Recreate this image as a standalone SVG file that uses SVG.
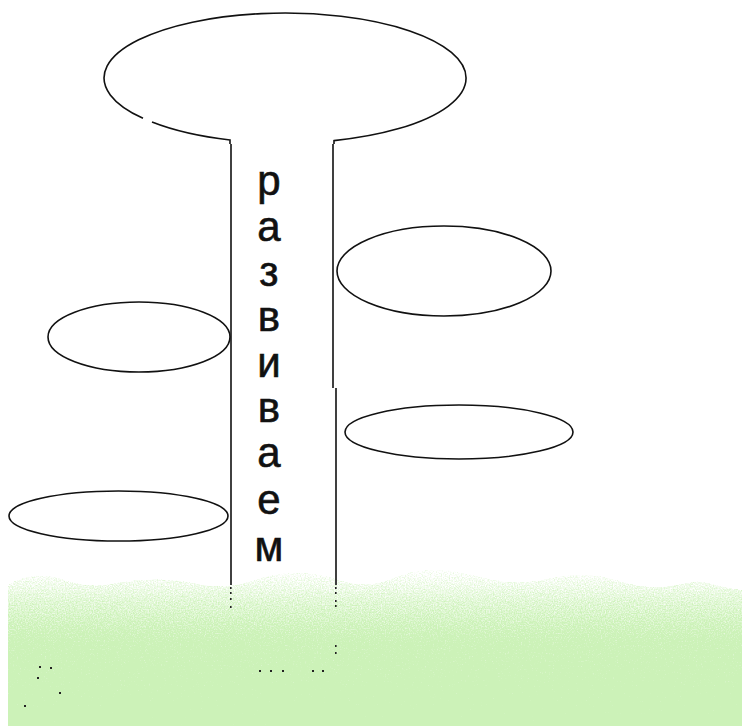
<svg xmlns="http://www.w3.org/2000/svg" width="742" height="726" viewBox="0 0 742 726">
<style>
.ol{fill:none;stroke:#111;stroke-width:1.6}
.lt{font-family:"Liberation Sans",Arial,sans-serif;font-size:42px;fill:#111;stroke:#111;stroke-width:0.6;text-anchor:middle}
.dot{fill:#222}
</style>
<defs>
<linearGradient id="gg" x1="0" y1="560" x2="0" y2="726" gradientUnits="userSpaceOnUse">
<stop offset="0" stop-color="#000" stop-opacity="0.25"/>
<stop offset="0.25" stop-color="#000" stop-opacity="0.6"/>
<stop offset="0.5" stop-color="#000" stop-opacity="0.85"/>
<stop offset="1" stop-color="#000" stop-opacity="1"/>
</linearGradient>
<filter id="noise" x="0" y="0" width="100%" height="100%" color-interpolation-filters="sRGB">
<feTurbulence type="fractalNoise" baseFrequency="0.75" numOctaves="2" seed="5" result="t"/>
<feColorMatrix in="t" type="matrix" values="0 0 0 0 0  0 0 0 0 0  0 0 0 0 0  1.4 0 0 0 -0.2" result="n"/>
<feComposite in="SourceAlpha" in2="n" operator="arithmetic" k1="0" k2="2.2" k3="1" k4="-1.25" result="m"/>
<feFlood flood-color="#ccf2b8" result="c"/>
<feComposite in="c" in2="m" operator="in"/>
</filter>
</defs>
<rect width="742" height="726" fill="#fff"/>
<g id="grass">
<path filter="url(#noise)" fill="url(#gg)" d="M8,726 L8,585 Q30,570 60,578 Q90,590 120,582 Q160,575 200,584 Q230,590 260,578 Q300,566 340,580 Q370,590 400,575 Q430,565 470,574 Q510,586 540,580 Q580,570 610,578 Q650,592 680,584 Q700,578 720,586 L742,590 L742,726 Z"/>
</g>
<g id="crown">
<path class="ol" d="M230,144 L230,140 A181,65 0 0 1 152,122 M143,118.3 A181,65 0 1 1 334,140.6 L334,144"/>
</g>
<g id="trunk">
<path class="ol" d="M231,144 L231,585"/>
<path class="ol" d="M333,144 L333,388 M336,388 L336,585"/>
<g class="dot">
<rect x="230" y="587" width="1.6" height="2"/><rect x="230" y="592" width="1.6" height="2"/><rect x="230" y="598" width="1.6" height="2"/><rect x="230" y="606" width="1.6" height="2"/>
<rect x="335" y="587" width="1.6" height="2"/><rect x="335" y="592" width="1.6" height="2"/><rect x="335" y="600" width="1.6" height="2"/><rect x="335" y="605" width="1.6" height="2"/>
<rect x="335" y="645" width="1.6" height="2"/><rect x="335" y="652" width="1.6" height="2"/>
<rect x="259" y="670" width="2" height="2"/><rect x="270" y="670" width="2" height="2"/><rect x="282" y="670" width="2" height="2"/><rect x="312" y="670" width="2" height="2"/><rect x="322" y="670" width="2" height="2"/>
<rect x="39" y="666" width="2" height="2"/><rect x="50" y="667" width="2" height="2"/><rect x="37" y="677" width="2" height="2"/><rect x="59" y="692" width="2" height="2"/><rect x="24" y="705" width="2" height="2"/>
</g>
</g>
<g id="label">
<text class="lt" x="269" y="195">р</text>
<text class="lt" x="269" y="241">а</text>
<text class="lt" x="269" y="286">з</text>
<text class="lt" x="269" y="331">в</text>
<text class="lt" x="269" y="377">и</text>
<text class="lt" x="269" y="422">в</text>
<text class="lt" x="269" y="467">а</text>
<text class="lt" x="269" y="514">е</text>
<text class="lt" x="269" y="561">м</text>
</g>
<g id="leaf-right-1"><ellipse class="ol" cx="444" cy="271" rx="107" ry="45"/></g>
<g id="leaf-right-2"><ellipse class="ol" cx="459" cy="432" rx="114" ry="27"/></g>
<g id="leaf-left-1"><ellipse class="ol" cx="139" cy="337" rx="91" ry="35"/></g>
<g id="leaf-left-2"><ellipse class="ol" cx="118.5" cy="516" rx="109.5" ry="25"/></g>
</svg>
